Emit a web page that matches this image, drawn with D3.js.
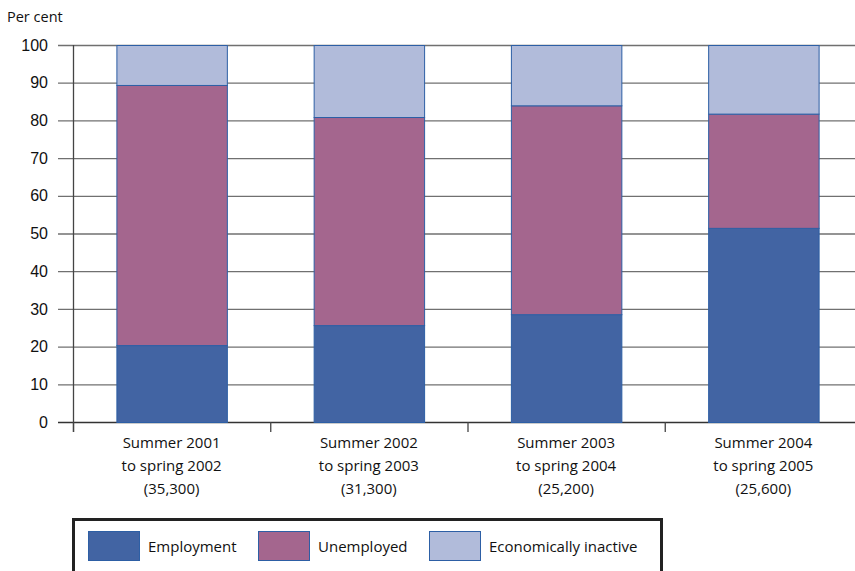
<!DOCTYPE html>
<html lang="en">
<head>
<meta charset="utf-8">
<title>Stacked bars</title>
<style>
  body { margin: 0; background: #fff; }
  svg { display: block; font-family: "Open Sans", "Noto Sans", sans-serif; }
  .tick text { font-size: 16px; fill: #111; }
</style>
</head>
<body>
<div id="container"></div>
<script src="https://cdn.jsdelivr.net/npm/d3@7"></script>
<script>

var width = 855, height = 571;

// ------ data --------
var categories = [
  ["Summer 2001", "to spring 2002", "(35,300)"],
  ["Summer 2002", "to spring 2003", "(31,300)"],
  ["Summer 2003", "to spring 2004", "(25,200)"],
  ["Summer 2004", "to spring 2005", "(25,600)"]
];
var seriesNames = ["Employment", "Unemployed", "Economically inactive"];
var employment = [20.4, 25.7, 28.6, 51.5];
var unemployed = [69.0, 55.2, 55.4, 30.3];
var inactive   = [10.6, 19.1, 16.0, 18.2];
var yTicks = [0, 10, 20, 30, 40, 50, 60, 70, 80, 90, 100];
var colors = ["#4264a3", "#a4668e", "#b1bbda"];
// ---------------------

var rows = categories.map(function(c, i) {
  return { i: i, Employment: employment[i], Unemployed: unemployed[i], "Economically inactive": inactive[i] };
});
var stacked = d3.stack().keys(seriesNames)(rows);

var svg = d3.select("#container").append("svg")
    .attr("width", width)
    .attr("height", height);

var x0 = 73, x1 = 862, yTop = 45, yBot = 422;

var x = d3.scaleBand().domain(d3.range(categories.length)).range([x0, x1])
    .paddingInner(0.44).paddingOuter(0.22);
var y = d3.scaleLinear().domain([0, 100]).range([yBot, yTop]);

// gridlines
svg.append("g").selectAll("line").data(yTicks).enter().append("line")
    .attr("x1", 58).attr("x2", width)
    .attr("y1", function(d) { return y(d) + 0.5; })
    .attr("y2", function(d) { return y(d) + 0.5; })
    .attr("stroke", function(d) { return d === 0 ? "#333" : "#707070"; })
    .attr("stroke-width", 1.3);

// y axis labels
var yAxis = d3.axisLeft(y).tickValues(yTicks).tickSize(0).tickPadding(0);
svg.append("g").attr("transform", "translate(48,0)").call(yAxis)
    .call(function(g) { g.select(".domain").remove(); });

// y axis line
svg.append("line").attr("x1", x0 + 0.5).attr("x2", x0 + 0.5)
    .attr("y1", yTop).attr("y2", yBot + 10)
    .attr("stroke", "#444").attr("stroke-width", 1.3);

// category boundary ticks
var step = x.step();
svg.append("g").selectAll("line").data(d3.range(categories.length + 1)).enter().append("line")
    .attr("x1", function(d) { return x0 + d * step + 0.5; })
    .attr("x2", function(d) { return x0 + d * step + 0.5; })
    .attr("y1", yBot).attr("y2", yBot + 10)
    .attr("stroke", "#444").attr("stroke-width", 1.3);

svg.append("text").attr("x", 7).attr("y", 22)
    .style("font-size", "14.5px").style("fill", "#111").text("Per cent");

// bars
svg.append("g").selectAll("g").data(stacked).enter().append("g")
    .attr("fill", function(d, i) { return colors[i]; })
  .selectAll("rect").data(function(d) { return d; }).enter().append("rect")
    .attr("x", function(d) { return x(d.data.i) + 0.5; })
    .attr("y", function(d) { return y(d[1]) + 0.5; })
    .attr("width", x.bandwidth())
    .attr("height", function(d) { return y(d[0]) - y(d[1]); })
    .attr("stroke", "#2d5fa5").attr("stroke-width", 1);

// category labels
var lab = svg.append("g").selectAll("text").data(categories).enter().append("text")
    .attr("x", function(d, i) { return x(i) + x.bandwidth() / 2; })
    .attr("y", 448)
    .attr("text-anchor", "middle")
    .style("font-size", "15px").style("fill", "#111");
lab.selectAll("tspan").data(function(d) { return d; }).enter().append("tspan")
    .attr("x", function() { return d3.select(this.parentNode).attr("x"); })
    .attr("dy", function(d, j) { return j === 0 ? 0 : 23; })
    .text(function(d) { return d; });

// legend
var legend = svg.append("g");
legend.append("rect").attr("x", 73.5).attr("y", 519.5).attr("width", 588).attr("height", 70)
    .attr("fill", "none").attr("stroke", "#222").attr("stroke-width", 3);
var legX = [88, 258, 429];
var item = legend.selectAll("g").data(seriesNames).enter().append("g")
    .attr("transform", function(d, i) { return "translate(" + legX[i] + ",531)"; });
item.append("rect").attr("x", 0.5).attr("y", 0.5).attr("width", 51).attr("height", 29)
    .attr("fill", function(d, i) { return colors[i]; })
    .attr("stroke", "#2d5fa5").attr("stroke-width", 1);
item.append("text").attr("x", 60).attr("y", 21)
    .style("font-size", "15px").style("fill", "#111")
    .text(function(d) { return d; });

</script>
</body>
</html>
